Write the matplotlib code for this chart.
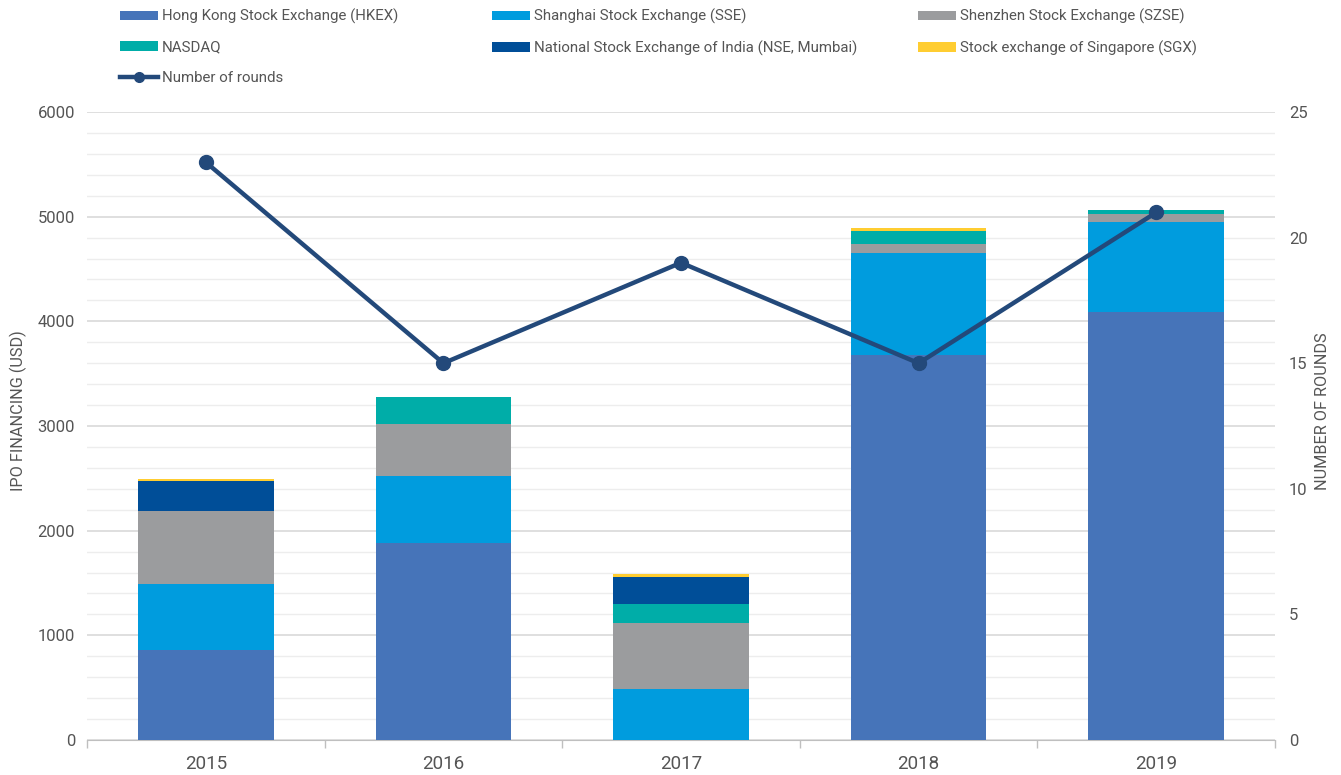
import matplotlib
matplotlib.use("Agg")
import matplotlib.pyplot as plt
from matplotlib.patches import Patch
from matplotlib.lines import Line2D
import numpy as np

plt.rcParams['font.family'] = ['Roboto', 'DejaVu Sans']

years = ["2015", "2016", "2017", "2018", "2019"]
hkex = [860, 1880, 0, 3680, 4090]
sse = [630, 645, 487, 970, 860]
szse = [700, 490, 630, 90, 75]
nasdaq = [0, 260, 180, 120, 40]
nse = [285, 0, 265, 0, 0]
sgx = [23, 0, 20, 35, 0]
rounds = [23, 15, 19, 15, 21]

series = [
    ("Hong Kong Stock Exchange (HKEX)", hkex, "#4674B9"),
    ("Shanghai Stock Exchange (SSE)", sse, "#009CDE"),
    ("Shenzhen Stock Exchange (SZSE)", szse, "#9B9C9E"),
    ("NASDAQ", nasdaq, "#00ADA8"),
    ("National Stock Exchange of India (NSE, Mumbai)", nse, "#004E98"),
    ("Stock exchange of Singapore (SGX)", sgx, "#FFCD31"),
]
line_color = "#23497A"
text_color = "#555555"

fig = plt.figure(figsize=(13.41, 7.75), dpi=100)
ax = fig.add_axes([87/1341, 1 - 740/775, (1275-87)/1341, (740-112)/775])

x = np.arange(len(years))
bottom = np.zeros(len(years))
handles = []
for name, vals, col in series:
    v = np.array(vals, dtype=float)
    ax.bar(x, v, 0.57, bottom=bottom, color=col, zorder=3, linewidth=0)
    bottom += v
    handles.append(Patch(facecolor=col, label=name))

ax.set_xlim(-0.5, len(years) - 0.5)
ax.set_ylim(0, 6000)
ax.set_yticks(np.arange(0, 6001, 1000))
ax.set_yticks(np.arange(0, 6001, 200), minor=True)
ax.grid(axis='y', which='minor', color='#EDEDED', linewidth=1, zorder=0)
ax.grid(axis='y', which='major', color='#D9D9D9', linewidth=1.2, zorder=0)
ax.tick_params(axis='y', which='both', length=0, labelsize=12, colors=text_color, pad=8.5)
ax.set_xticks(x)
ax.set_xticklabels(years)
ax.tick_params(axis='x', which='major', length=0, labelsize=13.5, colors=text_color, pad=11)
ax.set_xticks(np.arange(-0.5, len(years), 1), minor=True)
ax.tick_params(axis='x', which='minor', length=6, color='#BFBFBF', width=1)
for s in ['top', 'right', 'left']:
    ax.spines[s].set_visible(False)
ax.spines['bottom'].set_color('#BFBFBF')
ax.set_ylabel("IPO FINANCING (USD)", fontsize=11.7, color=text_color)
ax.yaxis.set_label_coords((27 - 87) / (1275 - 87), (740 - 411) / 628)

ax2 = ax.twinx()
ax2.plot(x, rounds, color=line_color, linewidth=3.2, marker='o', markersize=10, zorder=5)
ax2.set_ylim(0, 25)
ax2.set_yticks(np.arange(0, 26, 5))
ax2.tick_params(axis='y', length=0, labelsize=12, colors=text_color, pad=10)
for s in ['top', 'right', 'left', 'bottom']:
    ax2.spines[s].set_visible(False)
ax2.set_ylabel("NUMBER OF ROUNDS", fontsize=11.7, color=text_color)
ax2.yaxis.set_label_coords((1315 - 87) / (1275 - 87), (740 - 411) / 628)

line_handle = Line2D([0], [0], color=line_color, linewidth=3.2, marker='o', markersize=7, label="Number of rounds")

cols = [
    ([handles[0], handles[3], line_handle], 120),
    ([handles[1], handles[4]], 492),
    ([handles[2], handles[5]], 918),
]
for hs, px in cols:
    fig.legend(handles=hs, loc='upper left', bbox_to_anchor=(px/1341, 1 - 9/775),
               frameon=False, fontsize=10.8, handlelength=2.55, handleheight=0.6,
               handletextpad=0.25, labelspacing=1.08, borderaxespad=0, borderpad=0,
               labelcolor=text_color)

fig.savefig("out.png", dpi=100)
